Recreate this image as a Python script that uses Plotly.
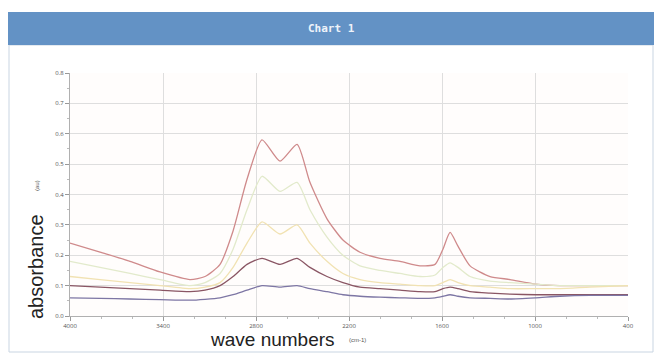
import plotly.graph_objects as go

# wavenumbers (cm-1)
wavenumbers = [4000, 3806, 3613, 3419, 3226, 3129, 3032, 2948, 2858, 2761, 2645, 2535,
               2452, 2342, 2239, 2129, 2000, 1871, 1742, 1645, 1594, 1548, 1497, 1419,
               1290, 1161, 994, 839, 645, 400]

series_1 = [0.24, 0.21, 0.18, 0.145, 0.12, 0.13, 0.17, 0.28, 0.45, 0.58, 0.51, 0.565,
            0.44, 0.32, 0.25, 0.21, 0.19, 0.18, 0.165, 0.17, 0.22, 0.275, 0.23, 0.165,
            0.13, 0.12, 0.105, 0.10, 0.10, 0.10]
series_2 = [0.18, 0.16, 0.14, 0.12, 0.10, 0.11, 0.14, 0.22, 0.35, 0.46, 0.41, 0.44,
            0.35, 0.26, 0.20, 0.165, 0.15, 0.14, 0.13, 0.135, 0.16, 0.175, 0.16, 0.13,
            0.115, 0.11, 0.105, 0.10, 0.10, 0.10]
series_3 = [0.13, 0.12, 0.11, 0.10, 0.09, 0.095, 0.11, 0.16, 0.24, 0.31, 0.27, 0.30,
            0.24, 0.18, 0.14, 0.12, 0.11, 0.105, 0.10, 0.10, 0.11, 0.12, 0.11, 0.10,
            0.095, 0.09, 0.09, 0.09, 0.095, 0.10]
series_4 = [0.10, 0.095, 0.09, 0.085, 0.08, 0.085, 0.10, 0.13, 0.17, 0.19, 0.17, 0.19,
            0.16, 0.13, 0.11, 0.095, 0.09, 0.085, 0.08, 0.08, 0.09, 0.095, 0.09, 0.08,
            0.075, 0.072, 0.07, 0.07, 0.07, 0.07]
series_5 = [0.06, 0.058, 0.056, 0.054, 0.052, 0.055, 0.06, 0.07, 0.085, 0.10, 0.095, 0.10,
            0.09, 0.08, 0.07, 0.065, 0.062, 0.06, 0.058, 0.06, 0.065, 0.07, 0.065, 0.06,
            0.058, 0.056, 0.06, 0.065, 0.068, 0.068]

x_ticks = [4000, 3400, 2800, 2200, 1600, 1000, 400]
y_ticks = [0.0, 0.1, 0.2, 0.3, 0.4, 0.5, 0.6, 0.7, 0.8]

all_series = [series_1, series_2, series_3, series_4, series_5]
colors = ["#cf8a8b", "#e2eacb", "#f1e2b2", "#8a5664", "#7d76a4"]

fig = go.Figure()
for s, c in zip(all_series, colors):
    fig.add_trace(go.Scatter(x=wavenumbers, y=s, mode="lines",
                             line=dict(color=c, width=1.3, shape="spline", smoothing=0.6),
                             showlegend=False, hoverinfo="skip"))

W, H = 654, 355
L, R, T, B = 70, 26, 73, 39
pw, ph = W - L - R, H - T - B

def px(xp):
    return (xp - L) / pw

def py(yp):
    return (H - B - yp) / ph

shapes = [
    # panel border
    dict(type="rect", xref="paper", yref="paper", x0=px(9), x1=px(653), y0=py(352), y1=py(45),
         line=dict(color="#c9d5e2", width=1), fillcolor="rgba(0,0,0,0)", layer="below"),
    # title bar
    dict(type="rect", xref="paper", yref="paper", x0=px(8), x1=px(654), y0=py(45), y1=py(12),
         line=dict(width=0), fillcolor="#6392c5", layer="below"),
]

def ann(text, x, y, size, color, family="Liberation Sans", angle=0):
    return dict(text=text, xref="paper", yref="paper", x=px(x), y=py(y), textangle=angle,
                xanchor="center", yanchor="middle", showarrow=False,
                font=dict(family=family, size=size, color=color))

annotations = [
    ann("<b>Chart 1</b>", 331, 28, 11, "#eef3fa", family="DejaVu Sans Mono"),
    ann("absorbance", 36, 267, 20, "#222222", angle=-90),
    ann("(au)", 37, 186, 6, "#555555", angle=-90),
    ann("wave numbers", 272, 339, 19, "#222222"),
    ann("(cm-1)", 357, 340, 6, "#555555"),
]

fig.update_layout(
    width=W, height=H,
    margin=dict(l=L, r=R, t=T, b=B),
    paper_bgcolor="white", plot_bgcolor="#fffdfc",
    shapes=shapes, annotations=annotations,
    xaxis=dict(range=[4000, 400], tickvals=x_ticks, ticktext=[str(v) for v in x_ticks],
               showgrid=True, gridcolor="#dedede", gridwidth=1,
               showline=True, linecolor="#b0b0b0", ticks="outside", ticklen=4,
               tickcolor="#999999", tickfont=dict(size=6, color="#555555"),
               minor=dict(ticks="outside", ticklen=2, nticks=6, tickcolor="#bbbbbb", showgrid=False),
               zeroline=False),
    yaxis=dict(range=[0, 0.8], tickvals=y_ticks, ticktext=[f"{v:.1f}" for v in y_ticks],
               showgrid=True, gridcolor="#dedede", gridwidth=1,
               showline=True, linecolor="#b0b0b0", ticks="outside", ticklen=4,
               tickcolor="#999999", tickfont=dict(size=6, color="#555555"),
               minor=dict(ticks="outside", ticklen=2, nticks=6, tickcolor="#bbbbbb", showgrid=False),
               zeroline=False),
)

fig.write_html("out.html", config={"displayModeBar": False},
               post_script="document.body.style.margin='0px';document.body.style.overflow='hidden';")
